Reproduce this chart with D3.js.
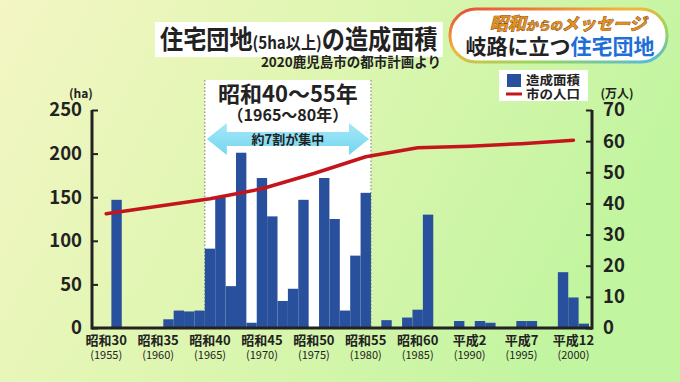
<!DOCTYPE html>
<html>
<head>
<meta charset="utf-8">
<script src="https://cdn.jsdelivr.net/npm/d3@7"></script>
<style>
  body { margin: 0; padding: 0; }
  svg { display: block; }
  text { font-family: "Noto Sans CJK JP", "Noto Sans", sans-serif; }
</style>
</head>
<body>
<div id="chart"></div>
<script>
// Data
var years = d3.range(1955, 2002);
var areaValues = [0, 147, 0, 0, 0, 0, 10, 20, 19, 20,
  91, 150, 48, 201, 6, 172, 128, 31, 45, 147,
  0, 172, 125, 20, 83, 155, 0, 9, 0, 12,
  21, 130, 0, 0, 8, 0, 8, 6, 0, 0,
  8, 8, 0, 0, 64, 35, 5];
var popYears = [1955, 1960, 1965, 1970, 1975, 1980, 1985, 1990, 1995, 2000];
var popValues = [36.7, 39.1, 41.5, 44.7, 49.6, 55.0, 57.9, 58.4, 59.2, 60.3];
var tickYears = [1955, 1960, 1965, 1970, 1975, 1980, 1985, 1990, 1995, 2000];
var eraLabels = ["昭和30", "昭和35", "昭和40", "昭和45", "昭和50", "昭和55", "昭和60", "平成2", "平成7", "平成12"];
var leftTicks = [0, 50, 100, 150, 200, 250];
var rightTicks = [0, 10, 20, 30, 40, 50, 60, 70];
var highlightStart = 1965;
var highlightEnd = 1980;

// Setup chart
var svgWidth = 680;
var svgHeight = 382;
var plot = { left: 92, right: 592, top: 110, bottom: 328 };

var svg = d3.select("#chart")
  .append("svg")
  .attr("width", svgWidth)
  .attr("height", svgHeight);

var defs = svg.append("defs");

var bg = defs.append("linearGradient")
  .attr("id", "bg")
  .attr("x1", "0").attr("y1", "0")
  .attr("x2", "1").attr("y2", "0.3");
bg.append("stop").attr("offset", "0").attr("stop-color", "#f4f6c4");
bg.append("stop").attr("offset", "0.45").attr("stop-color", "#e0f6b2");
bg.append("stop").attr("offset", "1").attr("stop-color", "#c2f5a0");

var badgeStroke = defs.append("linearGradient")
  .attr("id", "badgeStroke")
  .attr("x1", "0").attr("y1", "0")
  .attr("x2", "1").attr("y2", "1");
badgeStroke.append("stop").attr("offset", "0").attr("stop-color", "#e5483a");
badgeStroke.append("stop").attr("offset", "0.4").attr("stop-color", "#f3b63c");
badgeStroke.append("stop").attr("offset", "0.7").attr("stop-color", "#9ad55e");
badgeStroke.append("stop").attr("offset", "1").attr("stop-color", "#4fb6e6");

var arrowFill = defs.append("linearGradient")
  .attr("id", "arrowFill")
  .attr("x1", "0").attr("y1", "0")
  .attr("x2", "0").attr("y2", "1");
arrowFill.append("stop").attr("offset", "0").attr("stop-color", "#a6e8f7");
arrowFill.append("stop").attr("offset", "1").attr("stop-color", "#74d6ef");

svg.append("rect")
  .attr("width", svgWidth)
  .attr("height", svgHeight)
  .attr("fill", "url(#bg)");

// Scales
var x = d3.scaleBand()
  .domain(years)
  .range([plot.left + 9, plot.right - 3]);

var yLeft = d3.scaleLinear()
  .domain([0, 250])
  .range([plot.bottom, plot.top]);

var yRight = d3.scaleLinear()
  .domain([0, 70])
  .range([plot.bottom, plot.top]);

// Highlight box for 1965-1980
var hx0 = x(highlightStart);
var hx1 = x(highlightEnd) + x.bandwidth();
svg.append("rect")
  .attr("x", hx0)
  .attr("y", 80)
  .attr("width", hx1 - hx0)
  .attr("height", plot.bottom - 80)
  .attr("fill", "#ffffff");

[hx0, hx1].forEach(function(px) {
  svg.append("line")
    .attr("x1", px).attr("x2", px)
    .attr("y1", 80).attr("y2", plot.bottom)
    .attr("stroke", "#777")
    .attr("stroke-width", 1)
    .attr("stroke-dasharray", "1.5,2");
});

var hMid = (hx0 + hx1) / 2;
svg.append("text")
  .attr("x", hMid).attr("y", 102)
  .attr("text-anchor", "middle")
  .attr("font-size", 22)
  .attr("font-weight", "bold")
  .attr("fill", "#222")
  .text("昭和40～55年");

svg.append("text")
  .attr("x", hMid).attr("y", 121)
  .attr("text-anchor", "middle")
  .attr("font-size", 16)
  .attr("font-weight", "bold")
  .attr("fill", "#222")
  .text("（1965～80年）");

// double arrow
var ay = 139, shaft = 7, head = 16, headLen = 20;
var ax0 = hx0 + 2, ax1 = hx1 - 2;
svg.append("path")
  .attr("d", d3.line()([
    [ax0, ay], [ax0 + headLen, ay - head], [ax0 + headLen, ay - shaft],
    [ax1 - headLen, ay - shaft], [ax1 - headLen, ay - head], [ax1, ay],
    [ax1 - headLen, ay + head], [ax1 - headLen, ay + shaft],
    [ax0 + headLen, ay + shaft], [ax0 + headLen, ay + head]
  ]) + "Z")
  .attr("fill", "url(#arrowFill)");

svg.append("text")
  .attr("x", hMid).attr("y", ay + 4.5)
  .attr("text-anchor", "middle")
  .attr("font-size", 13)
  .attr("font-weight", "bold")
  .attr("fill", "#222")
  .text("約7割が集中");

// Bars
svg.append("g")
  .selectAll("rect")
  .data(years)
  .enter()
  .append("rect")
  .attr("x", d => x(d))
  .attr("width", x.bandwidth())
  .attr("y", (d, i) => yLeft(areaValues[i]))
  .attr("height", (d, i) => plot.bottom - yLeft(areaValues[i]))
  .attr("fill", "#28509c");

// Population line
var popLine = d3.line()
  .x((d, i) => x(popYears[i]) + x.bandwidth() / 2)
  .y(d => yRight(d));

svg.append("path")
  .attr("d", popLine(popValues))
  .attr("fill", "none")
  .attr("stroke", "#c4141c")
  .attr("stroke-width", 3.5)
  .attr("stroke-linejoin", "round")
  .attr("stroke-linecap", "round");

// Axes
var leftAxis = d3.axisLeft(yLeft).tickValues(leftTicks).tickSize(-6).tickPadding(10);
var rightAxis = d3.axisRight(yRight).tickValues(rightTicks).tickSize(-6).tickPadding(11);

var gl = svg.append("g")
  .attr("transform", `translate(${plot.left}, 0)`)
  .call(leftAxis);
var gr = svg.append("g")
  .attr("transform", `translate(${plot.right}, 0)`)
  .call(rightAxis);

[gl, gr].forEach(function(g) {
  g.select(".domain").remove();
  g.selectAll(".tick line").attr("stroke", "#222").attr("stroke-width", 2);
  g.selectAll(".tick text")
    .attr("font-family", "'Liberation Sans', Arial, sans-serif")
    .attr("font-size", 18.5)
    .attr("font-weight", "bold")
    .attr("fill", "#222");
});

svg.append("line")
  .attr("x1", plot.left).attr("x2", plot.left)
  .attr("y1", plot.top).attr("y2", plot.bottom + 1.5)
  .attr("stroke", "#222").attr("stroke-width", 3);
svg.append("line")
  .attr("x1", plot.right).attr("x2", plot.right)
  .attr("y1", plot.top).attr("y2", plot.bottom + 1.5)
  .attr("stroke", "#222").attr("stroke-width", 3);
svg.append("line")
  .attr("x1", plot.left).attr("x2", plot.right)
  .attr("y1", plot.bottom).attr("y2", plot.bottom)
  .attr("stroke", "#222").attr("stroke-width", 3);

// x labels
var xl = svg.append("g")
  .selectAll("g")
  .data(tickYears)
  .enter()
  .append("g")
  .attr("transform", d => `translate(${x(d) + x.bandwidth() / 2}, 0)`);

xl.append("text")
  .attr("y", 345)
  .attr("text-anchor", "middle")
  .attr("font-size", 13)
  .attr("font-weight", "bold")
  .attr("fill", "#222")
  .text((d, i) => eraLabels[i]);

xl.append("text")
  .attr("y", 359)
  .attr("text-anchor", "middle")
  .attr("font-size", 11)
  .attr("fill", "#222")
  .text(d => "(" + d + ")");

// unit labels
svg.append("text")
  .attr("x", 81).attr("y", 98)
  .attr("text-anchor", "middle")
  .attr("font-size", 12)
  .attr("font-weight", "bold")
  .attr("fill", "#222")
  .text("(ha)");

svg.append("text")
  .attr("x", 617).attr("y", 98)
  .attr("text-anchor", "middle")
  .attr("font-size", 12)
  .attr("font-weight", "bold")
  .attr("fill", "#222")
  .text("(万人)");

// Legend
svg.append("rect")
  .attr("x", 499).attr("y", 70)
  .attr("width", 89).attr("height", 31)
  .attr("fill", "#fff");
svg.append("rect")
  .attr("x", 507).attr("y", 74)
  .attr("width", 14).attr("height", 13)
  .attr("fill", "#28509c");
svg.append("line")
  .attr("x1", 506).attr("x2", 522)
  .attr("y1", 94).attr("y2", 94)
  .attr("stroke", "#c4141c").attr("stroke-width", 3);
svg.append("text")
  .attr("x", 526).attr("y", 85)
  .attr("font-size", 12.5).attr("font-weight", "bold").attr("fill", "#222")
  .attr("textLength", 54).attr("lengthAdjust", "spacingAndGlyphs")
  .text("造成面積");
svg.append("text")
  .attr("x", 526).attr("y", 98.5)
  .attr("font-size", 12.5).attr("font-weight", "bold").attr("fill", "#222")
  .attr("textLength", 54).attr("lengthAdjust", "spacingAndGlyphs")
  .text("市の人口");

// Title (slightly condensed)
var titleScale = 0.89;
var title = svg.append("text")
  .attr("transform", `translate(160, 49) scale(${titleScale}, 1)`)
  .attr("font-weight", "bold")
  .attr("fill", "#222");
title.append("tspan").attr("font-size", 26).text("住宅団地");
title.append("tspan").attr("font-size", 17).text("(5ha以上)");
title.append("tspan").attr("font-size", 26).text("の造成面積");

var tb = title.node().getBBox();
svg.insert("rect", "text")
  .attr("x", 155).attr("y", 22)
  .attr("width", tb.width * titleScale + 10).attr("height", 35)
  .attr("fill", "#fff");

svg.append("text")
  .attr("x", 441).attr("y", 67)
  .attr("text-anchor", "end")
  .attr("font-size", 13.5)
  .attr("font-weight", "bold")
  .attr("fill", "#222")
  .text("2020鹿児島市の都市計画より");

// Badge
svg.append("rect")
  .attr("x", 450).attr("y", 9)
  .attr("width", 217).attr("height", 53)
  .attr("rx", 26)
  .attr("fill", "#fff")
  .attr("stroke", "url(#badgeStroke)")
  .attr("stroke-width", 3);

var badge1 = svg.append("text")
  .attr("x", 568).attr("y", 30)
  .attr("text-anchor", "middle")
  .attr("font-weight", "bold")
  .attr("font-style", "italic")
  .attr("fill", "#e0901c")
  .attr("stroke", "#7a3a0c")
  .attr("stroke-width", 0.8)
  .attr("paint-order", "stroke");
badge1.append("tspan").attr("font-size", 18).text("昭和");
badge1.append("tspan").attr("font-size", 12).text("からの");
badge1.append("tspan").attr("font-size", 17).text("メッセージ");

var badge2 = svg.append("text")
  .attr("x", 560).attr("y", 54)
  .attr("text-anchor", "middle")
  .attr("font-size", 21)
  .attr("font-weight", "bold");
badge2.append("tspan").attr("fill", "#222").text("岐路に立つ");
badge2.append("tspan").attr("fill", "#1f6fd6").text("住宅団地");
</script>
</body>
</html>
